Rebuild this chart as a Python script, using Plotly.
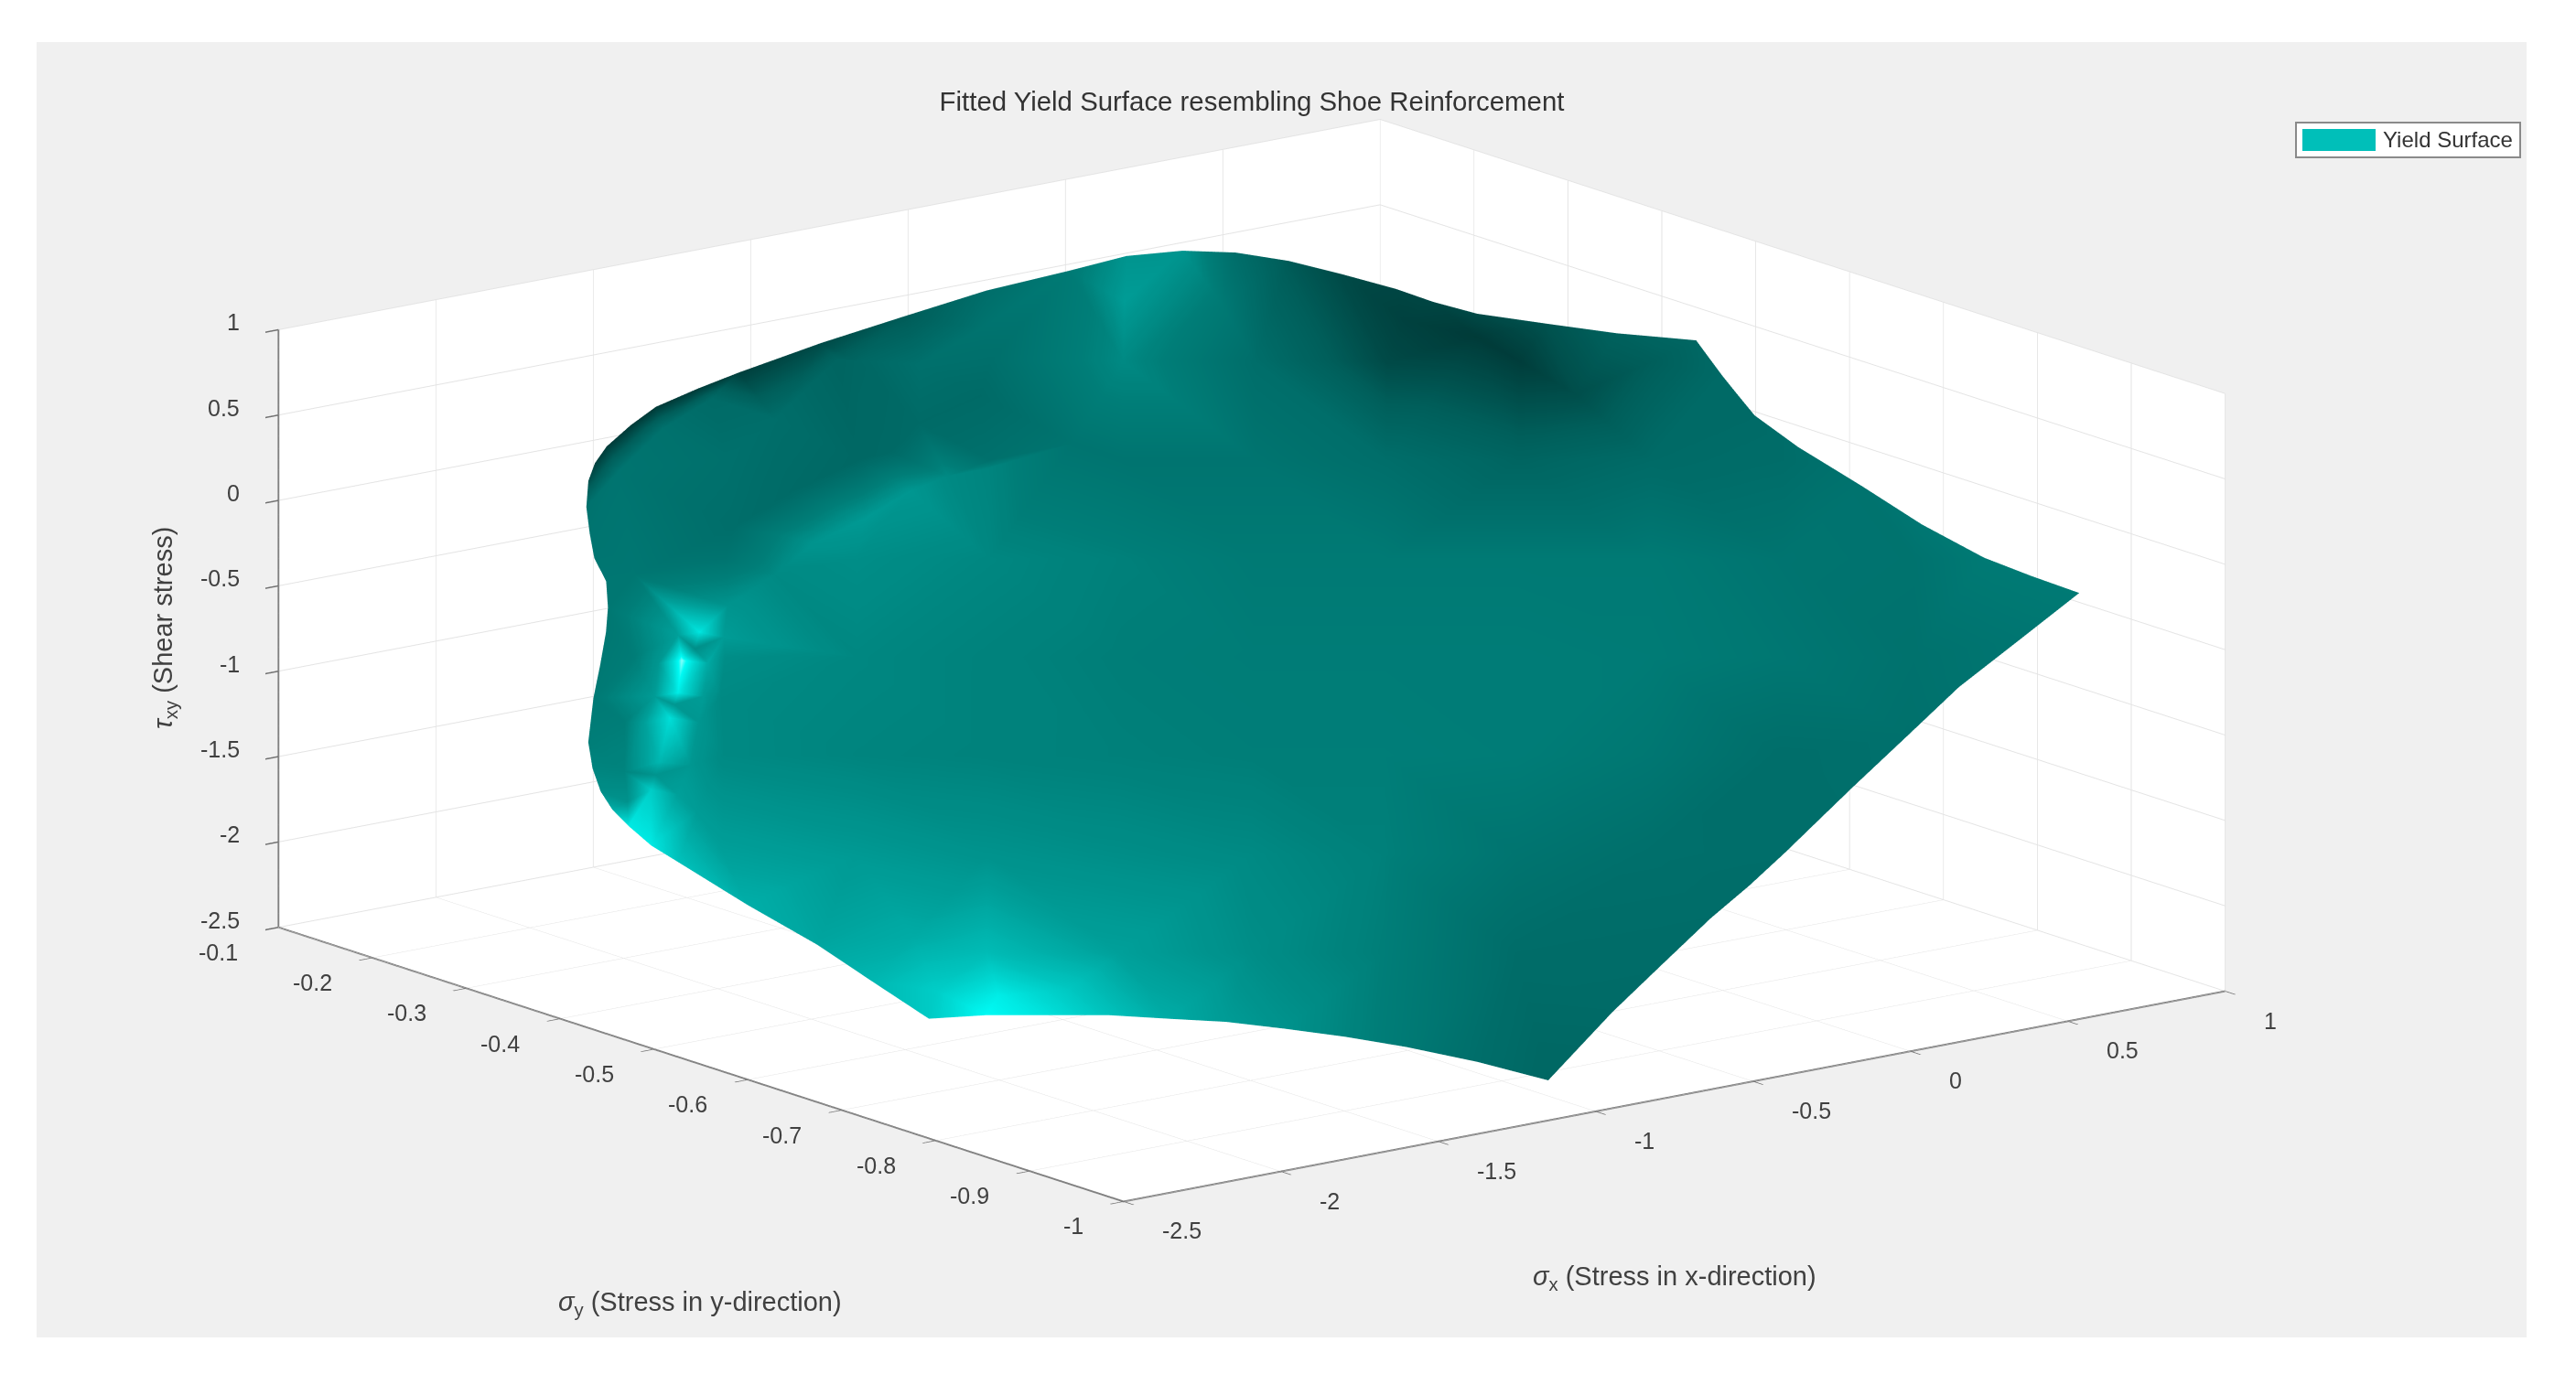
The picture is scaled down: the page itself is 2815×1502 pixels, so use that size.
import plotly.graph_objects as go

# ---- values ----
x_ticks = [-2.5, -2, -1.5, -1, -0.5, 0, 0.5, 1]
y_ticks = [-1, -0.9, -0.8, -0.7, -0.6, -0.5, -0.4, -0.3, -0.2, -0.1]
z_ticks = [-2.5, -2, -1.5, -1, -0.5, 0, 0.5, 1]
x_labels = ["-2.5", "-2", "-1.5", "-1", "-0.5", "0", "0.5", "1"]
y_labels = ["-1", "-0.9", "-0.8", "-0.7", "-0.6", "-0.5", "-0.4", "-0.3", "-0.2", "-0.1"]
z_labels = ["-2.5", "-2", "-1.5", "-1", "-0.5", "0", "0.5", "1"]

# edge of the sheet, walking round it
edge_sigma_x = [-2.152,-2.035,-1.910,-1.801,-1.698,-1.596,-1.500,-1.402,-1.309,-1.208,-1.115,-.843,-.651,-.453,-.309,-.169,-.035,.100,.314,.518,.735,.945,.893,.845,.800,.771,.752,.735,.722,.735,.746,.760,.772,.707,.639,.526,.416,.360,.317,.246,.175,.093,-.004,-.122,-.263,-.463,-.676,-.890,-1.108,-1.222,-1.340,-1.429,-1.520,-1.578,-1.629,-1.689,-1.741,-1.786,-1.814,-1.868,-1.925,-2.006,-2.090,-2.196,-2.245,-2.279,-2.296,-2.301,-2.300,-2.286,-2.248,-2.203,-2.178]
edge_sigma_y = [-.676,-.698,-.726,-.751,-.779,-.806,-.836,-.868,-.902,-.944,-.988,-.965,-.952,-.939,-.932,-.923,-.914,-.905,-.891,-.878,-.870,-.863,-.829,-.795,-.744,-.690,-.663,-.634,-.592,-.569,-.550,-.531,-.513,-.493,-.473,-.436,-.399,-.371,-.346,-.312,-.279,-.250,-.226,-.206,-.192,-.171,-.154,-.138,-.124,-.118,-.113,-.116,-.121,-.128,-.138,-.156,-.177,-.197,-.219,-.239,-.256,-.277,-.298,-.328,-.349,-.369,-.387,-.406,-.430,-.454,-.515,-.574,-.623]
edge_tau = [-2.130,-2.111,-2.105,-2.099,-2.106,-2.112,-2.132,-2.157,-2.189,-2.237,-2.299,-2.037,-1.857,-1.671,-1.542,-1.415,-1.287,-1.158,-.960,-.767,-.580,-.393,-.335,-.272,-.153,-.015,.056,.127,.242,.321,.388,.455,.523,.531,.540,.570,.601,.640,.686,.737,.781,.807,.809,.784,.722,.639,.531,.423,.303,.237,.163,.092,.009,-.055,-.124,-.224,-.323,-.417,-.502,-.602,-.696,-.821,-.947,-1.116,-1.215,-1.302,-1.369,-1.430,-1.503,-1.562,-1.717,-1.860,-1.992]
edge_shade = [.75,.90,.82,.72,.64,.58,.54,.48,.42,.33,.27,.30,.31,.32,.32,.33,.33,.34,.35,.37,.39,.42,.42,.42,.40,.37,.35,.33,.30,.30,.30,.28,.27,.25,.22,.14,.10,.08,.08,.10,.18,.33,.55,.55,.42,.33,.18,.10,.05,.03,.02,.02,.03,.05,.12,.36,.38,.39,.40,.40,.40,.41,.42,.45,.48,.52,.65,.85,.85,.72,.65,.62,.68]

# inside of the sheet
inner_sigma_x = [
 -.857,-.607,-.357,-.107,.143,.394,.644,
 -1.323,-1.073,-.823,-.572,-.322,-.072,.178,.429,.679,
 -1.538,-1.288,-1.038,-.788,-.537,-.287,-.037,.213,.464,.714,
 -1.753,-1.503,-1.253,-1.003,-.752,-.502,-.252,-.002,.248,.499,
 -1.969,-1.718,-1.468,-1.218,-.968,-.718,-.467,-.217,.033,
 -2.184,-1.933,-1.683,-1.433,-1.183,-.933,-.682,-.432,
 -1.899,-1.648,-1.398,-1.148,-.898,
 -1.747,-1.842,-1.920,-1.990,-2.105,-2.181,-1.792,-1.952,-2.140,
 -1.636,-1.926,-2.084,-1.849,-2.138,-2.192,-1.746,
 -1.551,-1.374,-1.216,
 -1.041,-1.331,-.701,-.878,-1.454,-.225,-.554,-.895,-.044,.265,.366,.428,
 -1.970,-2.075,-1.821,-2.004,-1.582,
 -1.794,-1.711,-1.893,-1.799,-1.971,-1.877,-2.047,-1.944,-2.053,-2.142,-2.250,
 -.840,-.936,-1.186,-1.480,-.749,-1.140,-1.270,-.992,-.630]
inner_sigma_y = [
 -.167,-.224,-.281,-.338,-.395,-.452,-.509,
 -.182,-.239,-.296,-.353,-.410,-.466,-.523,-.580,-.637,
 -.253,-.310,-.367,-.424,-.481,-.538,-.595,-.652,-.709,-.765,
 -.325,-.382,-.439,-.496,-.552,-.609,-.666,-.723,-.780,-.837,
 -.396,-.453,-.510,-.567,-.624,-.681,-.738,-.795,-.851,
 -.468,-.525,-.581,-.638,-.695,-.752,-.809,-.866,
 -.653,-.710,-.767,-.824,-.881,
 -.296,-.309,-.331,-.346,-.373,-.390,-.306,-.338,-.381,
 -.289,-.285,-.329,-.353,-.425,-.365,-.226,
 -.144,-.132,-.131,
 -.284,-.280,-.245,-.238,-.234,-.238,-.196,-.157,-.281,-.372,-.415,-.500,
 -.689,-.658,-.714,-.609,-.775,
 -.289,-.310,-.301,-.322,-.323,-.344,-.338,-.361,-.389,-.405,-.388,
 -.301,-.289,-.284,-.286,-.195,-.173,-.233,-.247,-.319]
inner_tau = [
 .358,.371,.384,.398,.411,.424,.437,
 -.030,-.016,-.003,.010,.023,.036,.049,.063,.076,
 -.404,-.391,-.378,-.364,-.351,-.338,-.325,-.312,-.298,-.285,
 -.778,-.765,-.752,-.739,-.725,-.712,-.699,-.686,-.673,-.659,
 -1.152,-1.139,-1.126,-1.113,-1.100,-1.086,-1.073,-1.060,-1.047,
 -1.527,-1.513,-1.500,-1.487,-1.474,-1.461,-1.447,-1.434,
 -1.875,-1.861,-1.848,-1.835,-1.822,
 -.687,-.795,-.919,-1.014,-1.183,-1.290,-.750,-.964,-1.233,
 -.584,-.787,-1.037,-.934,-1.367,-1.224,-.475,
 -.083,.083,.200,
 -.129,-.333,.240,.128,-.284,.609,.495,.362,.613,.569,.513,.305,
 -2.035,-2.023,-2.003,-1.820,-2.009,
 -.701,-.703,-.809,-.804,-.935,-.930,-1.036,-1.030,-1.193,-1.306,-1.336,
 -.034,-.069,-.240,-.461,.352,.131,-.147,.019,.068]
inner_shade = [
 .27,.34,.50,.33,.10,.04,.20,
 .35,.28,.35,.38,.38,.33,.25,.30,.32,
 .38,.52,.49,.46,.42,.42,.42,.42,.38,.37,
 .52,.49,.47,.45,.44,.44,.44,.43,.40,.36,
 .50,.48,.47,.46,.45,.45,.44,.40,.33,
 .60,.57,.54,.52,.50,.46,.38,.34,
 .70,.60,.52,.45,.32,
 .84,.96,.86,.82,.68,.76,.52,.56,.55,
 .55,.44,.45,.50,.58,.48,.40,
 .38,.36,.30,
 .56,.55,.30,.30,.33,.58,.37,.25,.42,.06,.03,.12,
 .86,.76,.74,.64,.60,
 .60,.58,.56,.64,.58,.58,.60,.56,.56,.60,.54,
 .48,.50,.57,.50,.35,.33,.30,.29,.38]

series_name = "Yield Surface"
chart_title = "Fitted Yield Surface resembling Shoe Reinforcement"
legend_color = "#00bfb9"

shade_scale = [[0,"#003533"],[.2,"#005f5b"],[.35,"#00706c"],[.45,"#007e78"],[.6,"#00a09a"],
               [.8,"#00d8d2"],[.9,"#00fbf5"],[1,"#e8fffe"]]

# ---- triangulate the vertices (Bowyer-Watson), keep triangles inside the edge ----
xs = edge_sigma_x + inner_sigma_x
ys = edge_sigma_y + inner_sigma_y
zs = edge_tau + inner_tau
shade = edge_shade + inner_shade
n_edge = len(edge_sigma_x)

def view(px, py, pz):
    X, Y, Z = (px + 2.5) / 3.5, (-.1 - py) / .9, (pz + 2.5) / 3.5
    return 1203 * X + 923 * Y, 230 * X - 299 * Y + 653 * Z

pts = [view(a, b, c) for a, b, c in zip(xs, ys, zs)]

def delaunay(points):
    n = len(points)
    p = points + [(-1e5, -1e5), (1e5, -1e5), (0, 1e5)]
    tris = [(n, n + 1, n + 2)]
    def in_circ(t, q):
        ax, ay = p[t[0]][0] - q[0], p[t[0]][1] - q[1]
        bx, by = p[t[1]][0] - q[0], p[t[1]][1] - q[1]
        cx, cy = p[t[2]][0] - q[0], p[t[2]][1] - q[1]
        d = (ax*ax+ay*ay)*(bx*cy-cx*by) - (bx*bx+by*by)*(ax*cy-cx*ay) + (cx*cx+cy*cy)*(ax*by-bx*ay)
        o = (p[t[1]][0]-p[t[0]][0])*(p[t[2]][1]-p[t[0]][1]) - (p[t[1]][1]-p[t[0]][1])*(p[t[2]][0]-p[t[0]][0])
        return d * o > 0
    for i in range(n):
        bad = [t for t in tris if in_circ(t, p[i])]
        edges = {}
        for t in bad:
            for e in ((t[0], t[1]), (t[1], t[2]), (t[2], t[0])):
                k = tuple(sorted(e))
                edges[k] = edges.get(k, 0) + 1
        tris = [t for t in tris if t not in bad]
        for k, c in edges.items():
            if c == 1:
                tris.append((k[0], k[1], i))
    return [t for t in tris if max(t) < n]

def inside(q, poly):
    c = False
    for a, b in zip(poly, poly[1:] + poly[:1]):
        if (a[1] > q[1]) != (b[1] > q[1]) and q[0] < a[0] + (q[1]-a[1])*(b[0]-a[0])/(b[1]-a[1]):
            c = not c
    return c

outline = pts[:n_edge]
faces = [t for t in delaunay(pts)
         if inside((sum(pts[v][0] for v in t)/3, sum(pts[v][1] for v in t)/3), outline)]

W, H = 2815, 1502
OFF = 8   # the page's own margin
def fx(v): return (v - OFF) / W
def fy(v): return 1 - (v - OFF) / H

fig = go.Figure()
fig.add_trace(go.Mesh3d(
    x=xs, y=ys, z=zs,
    i=[t[0] for t in faces], j=[t[1] for t in faces], k=[t[2] for t in faces],
    intensity=shade, colorscale=shade_scale, cmin=0, cmax=1, showscale=False,
    flatshading=False,
    lighting=dict(ambient=1, diffuse=0, specular=0, roughness=1, fresnel=0),
    name=series_name, showlegend=False, hoverinfo="skip",
))
fig.add_trace(go.Scatter3d(x=[None], y=[None], z=[None], mode="markers", name=series_name,
                           marker=dict(symbol="square", size=12, color=legend_color), showlegend=True))

def axis(vals, rng):
    return dict(
        range=rng, tickmode="array", tickvals=vals, showticklabels=False, title=dict(text=""),
        showbackground=True, backgroundcolor="#ffffff", gridcolor="#e4e4e4", gridwidth=2,
        showline=True, linecolor="#808080", linewidth=4, zeroline=False,
        ticks="outside", ticklen=18, tickwidth=3, tickcolor="#707070",
        showspikes=False,
    )

tick_font = dict(family="Liberation Sans", size=25, color="#404040")
tick_notes = []
for v, t in zip(x_ticks, x_labels):
    tick_notes.append(dict(x=v, y=-1, z=-2.5, text=t, showarrow=False, xanchor="left", yanchor="middle",
                           xshift=40, yshift=-32, font=tick_font))
for v, t in zip(y_ticks, y_labels):
    tick_notes.append(dict(x=-2.5, y=v, z=-2.5, text=t, showarrow=False, xanchor="right", yanchor="middle",
                           xshift=-42, yshift=-27, font=tick_font))
for v, t in zip(z_ticks, z_labels):
    tick_notes.append(dict(x=-2.5, y=-.1, z=v, text=t, showarrow=False, xanchor="right", yanchor="middle",
                           xshift=-40, yshift=8, font=tick_font))

ZOOM = 2.125
fig.update_layout(
    width=W, height=H, margin=dict(l=0, r=0, t=0, b=0),
    paper_bgcolor="#ffffff",
    font=dict(family="Liberation Sans", color="#404040"),
    title=dict(text=chart_title, x=fx(1368), xanchor="center", y=fy(111), yanchor="middle",
               font=dict(size=29.4, color="#333333", family="Liberation Sans")),
    shapes=[
        dict(type="rect", xref="paper", yref="paper", x0=fx(40), x1=fx(2761), y0=fy(1462), y1=fy(46),
             fillcolor="#f0f0f0", line=dict(width=0), layer="below"),
        dict(type="rect", xref="paper", yref="paper", x0=fx(2509), x1=fx(2754), y0=fy(172), y1=fy(134),
             fillcolor="#ffffff", line=dict(width=2, color="#8a8a8a"), layer="below"),
        dict(type="rect", xref="paper", yref="paper", x0=fx(2516), x1=fx(2596), y0=fy(165), y1=fy(141),
             fillcolor=legend_color, line=dict(width=0), layer="below"),
    ],
    scene=dict(
        domain=dict(x=[0, 2720/W], y=[fy(1436), 1]),
        bgcolor="rgba(0,0,0,0)",
        aspectmode="manual", aspectratio=dict(x=ZOOM, y=ZOOM, z=.4446*ZOOM),
        camera=dict(projection=dict(type="orthographic"),
                    up=dict(x=0, y=0, z=1), center=dict(x=0, y=0, z=0),
                    eye=dict(x=-1.179, y=-1.537, z=.498)),
        xaxis=axis(x_ticks, [-2.5, 1]),
        yaxis=axis(y_ticks, [-1, -.1]),
        zaxis=axis(z_ticks, [-2.5, 1]),
        annotations=tick_notes,
    ),
    legend=dict(x=fx(2510), y=fy(130), xanchor="left", yanchor="top", bgcolor="rgba(0,0,0,0)",
                borderwidth=0, itemwidth=84, font=dict(size=24, color="#333333")),
    annotations=[
        dict(text="<i>σ</i><sub>y</sub> (Stress in y-direction)", xref="paper", yref="paper",
             x=fx(765), y=fy(1425), xanchor="center", yanchor="middle", showarrow=False,
             font=dict(size=29, color="#404040")),
        dict(text="<i>σ</i><sub>x</sub> (Stress in x-direction)", xref="paper", yref="paper",
             x=fx(1830), y=fy(1397), xanchor="center", yanchor="middle", showarrow=False,
             font=dict(size=29, color="#404040")),
        dict(text="<i>τ</i><sub>xy</sub> (Shear stress)", xref="paper", yref="paper", textangle=-90,
             x=fx(180), y=fy(687), xanchor="center", yanchor="middle", showarrow=False,
             font=dict(size=29, color="#404040")),
    ],
)
fig.write_html("out.html")
